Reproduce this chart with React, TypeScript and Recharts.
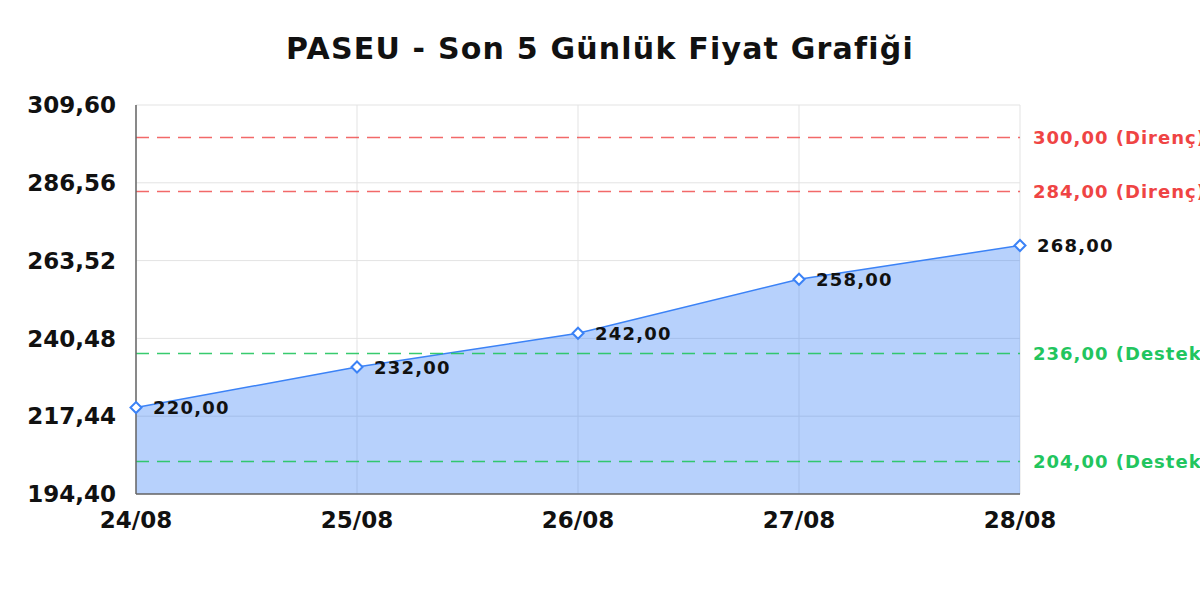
import React from "react";
import {
  AreaChart,
  Area,
  XAxis,
  YAxis,
  CartesianGrid,
  ReferenceLine,
  LabelList,
} from "recharts";

const days = ["24/08", "25/08", "26/08", "27/08", "28/08"];
const prices = [220, 232, 242, 258, 268];
const yTicks = [194.4, 217.44, 240.48, 263.52, 286.56, 309.6];
const resistanceLevels = [300, 284];
const supportLevels = [236, 204];

const FONT = "'DejaVu Sans', sans-serif";
const BLUE = "#3b82f6";
const RED = "#ef4444";
const GREEN = "#22c55e";

function formatTr(value: number): string {
  return value.toFixed(2).replace(".", ",");
}

const chartData = days.map((day, i) => ({ day, price: prices[i] }));

function DiamondDot(props: any) {
  const { cx, cy } = props;
  if (cx == null || cy == null) return null;
  const r = 5.5;
  return (
    <path
      d={`M${cx},${cy - r}L${cx + r},${cy}L${cx},${cy + r}L${cx - r},${cy}Z`}
      fill="#fff"
      stroke={BLUE}
      strokeWidth={2}
    />
  );
}

function ValueLabel(props: any) {
  const { x, y, value } = props;
  return (
    <text
      x={x + 17}
      y={y}
      dy="0.36em"
      fontFamily={FONT}
      fontWeight="bold"
      fontSize={18}
      letterSpacing={1.2}
      fill="#111"
    >
      {formatTr(value)}
    </text>
  );
}

function levelLabel(value: number, kind: string, color: string) {
  return {
    content: (p: any) => {
      const vb = p.viewBox;
      return (
        <text
          x={vb.x + vb.width + 13}
          y={vb.y}
          dy="0.36em"
          fontFamily={FONT}
          fontWeight="bold"
          fontSize={18}
          letterSpacing={1}
          fill={color}
        >
          {`${formatTr(value)} (${kind})`}
        </text>
      );
    },
  };
}

export default function App() {
  return (
    <div
      style={{
        position: "absolute",
        left: 0,
        top: 0,
        width: 1200,
        height: 600,
        overflow: "hidden",
        background: "#fff",
        fontFamily: FONT,
      }}
    >
      <div
        style={{
          position: "absolute",
          top: 31,
          left: 0,
          width: 1200,
          textAlign: "center",
          fontWeight: "bold",
          fontSize: 30,
          letterSpacing: 1.2,
          color: "#111",
        }}
      >
        PASEU - Son 5 Günlük Fiyat Grafiği
      </div>
      <AreaChart
        width={1200}
        height={600}
        data={chartData}
        margin={{ top: 105, right: 180, bottom: 76, left: 0 }}
      >
        <CartesianGrid stroke="#e3e3e3" strokeWidth={1} />
        <XAxis
          dataKey="day"
          height={30}
          axisLine={{ stroke: "#666", strokeWidth: 1.5 }}
          tickLine={false}
          tick={{ fill: "#111", fontFamily: FONT, fontWeight: "bold", fontSize: 23 }}
          tickMargin={12}
          interval={0}
        />
        <YAxis
          width={136}
          domain={[194.4, 309.6]}
          ticks={yTicks}
          interval={0}
          tickFormatter={formatTr}
          axisLine={{ stroke: "#666", strokeWidth: 1.5 }}
          tickLine={false}
          tickMargin={14}
          tick={{ fill: "#111", fontFamily: FONT, fontWeight: "bold", fontSize: 23 }}
        />
        {resistanceLevels.map((v) => (
          <ReferenceLine
            key={`r${v}`}
            y={v}
            stroke={RED}
            strokeOpacity={0.8}
            strokeWidth={1.5}
            strokeDasharray="13 8"
            label={levelLabel(v, "Direnç", RED)}
          />
        ))}
        {supportLevels.map((v) => (
          <ReferenceLine
            key={`s${v}`}
            y={v}
            stroke={GREEN}
            strokeOpacity={0.9}
            strokeWidth={1.5}
            strokeDasharray="13 8"
            label={levelLabel(v, "Destek", GREEN)}
          />
        ))}
        <Area
          type="linear"
          dataKey="price"
          stroke={BLUE}
          strokeWidth={1.5}
          fill={BLUE}
          fillOpacity={0.37}
          dot={<DiamondDot />}
          activeDot={false}
          isAnimationActive={false}
        >
          <LabelList dataKey="price" content={<ValueLabel />} />
        </Area>
      </AreaChart>
    </div>
  );
}
